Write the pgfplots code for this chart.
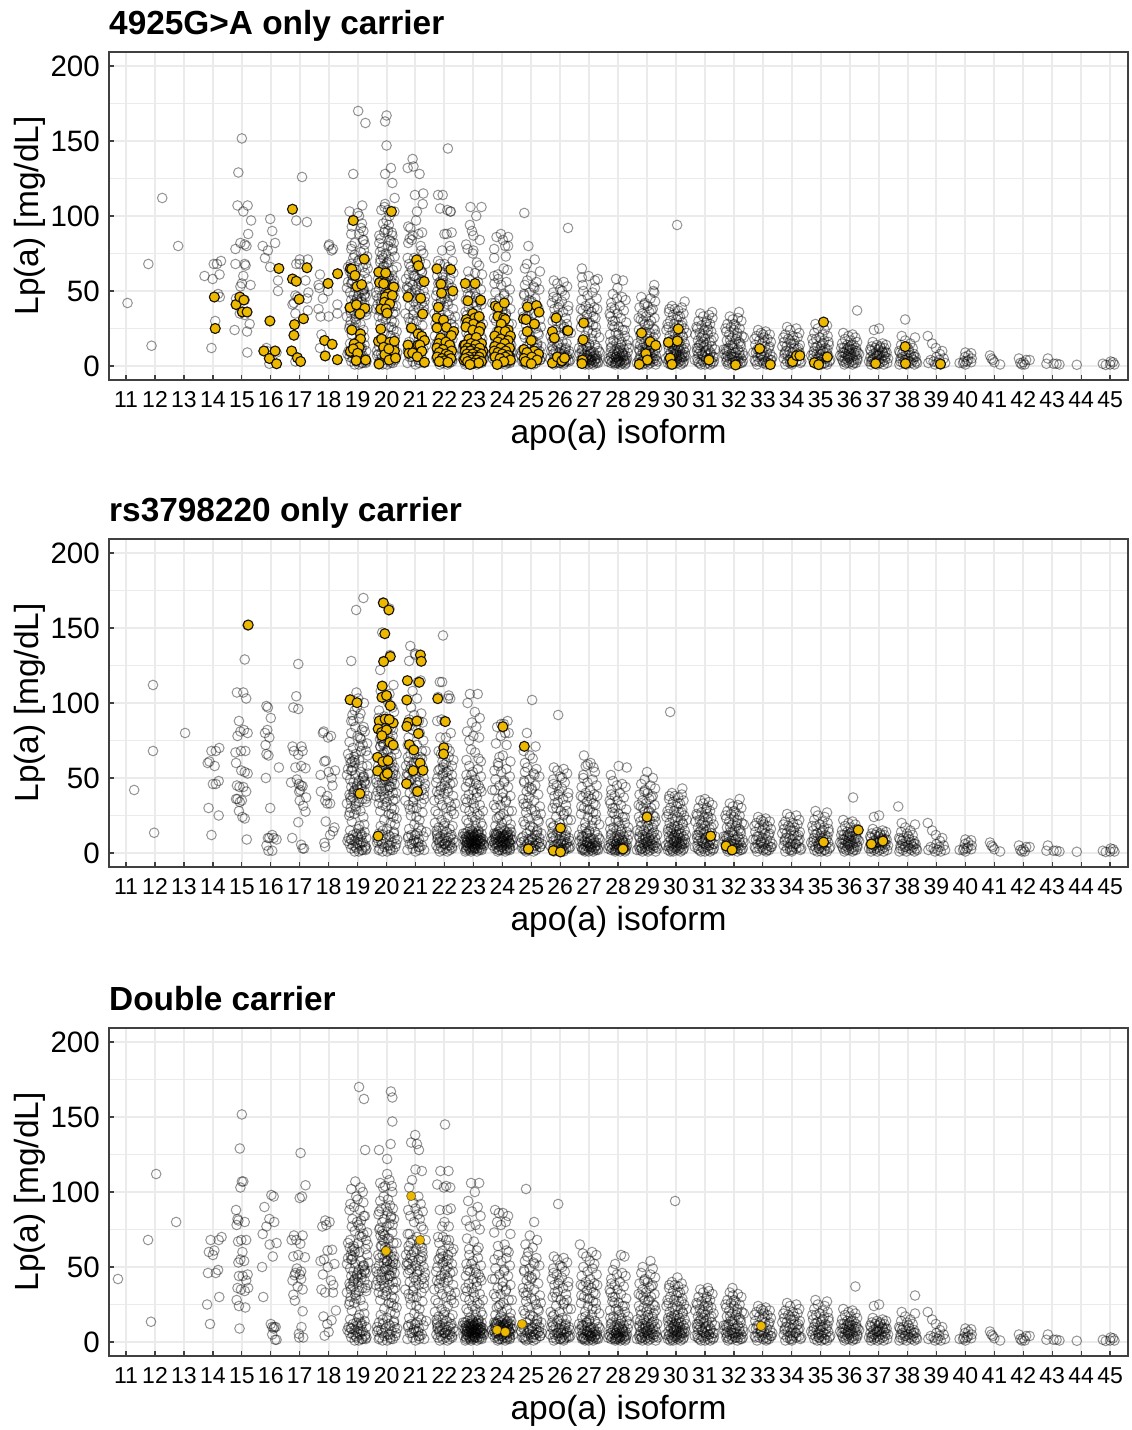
\documentclass[border=0pt]{standalone}
\usepackage{pgfplots}
\usepackage{pgfplotstable}
\usepackage{fontspec}
\setmainfont{Liberation Sans}
\pgfplotsset{compat=1.18}
\definecolor{gridg}{HTML}{EBEBEB}
\definecolor{frameg}{HTML}{404040}
\definecolor{gold}{HTML}{EDB800}
\pgfplotstableread{
a b c y
11.05 11.28 10.72 42
11.88 11.97 11.86 13.5
11.77 11.93 11.76 68
12.25 11.93 12.04 112
12.8 13.04 12.73 80
13.71 13.82 13.86 60
13.99 14.06 14.0 58
14.03 13.95 13.92 68
14.14 14.1 14.2 68
14.28 14.22 14.3 70
14.23 13.88 14.05 61
14.18 14.2 14.18 48
14.24 14.1 13.83 46
14.05 14.0 14.1 46
14.08 13.85 14.22 30
14.08 14.2 13.8 25
13.95 13.95 13.9 12
15.0 15.2 15.0 151.7
14.88 15.1 14.93 129
14.85 14.83 15.0 107
15.2 15.05 15.05 107
15.05 15.15 14.95 103
15.22 14.9 14.8 88
14.95 15.07 14.85 82
15.1 14.95 14.88 81
15.16 15.2 15.1 80
14.78 14.85 14.82 78
14.78 15.12 14.98 68
15.1 14.97 15.15 68
15.13 14.78 14.87 67
15.05 14.8 15.02 60
15.0 14.98 14.95 55
15.3 15.1 15.08 54
14.95 15.2 14.88 53
14.8 14.83 15.2 45
14.97 14.92 15.03 44
15.1 15.05 14.9 44
14.8 15.15 15.15 41
15.0 14.8 14.85 36
15.18 14.85 15.22 36
14.93 15.0 14.97 35
15.1 14.93 15.1 34
15.27 14.9 14.82 28
14.75 15.02 14.9 24
15.18 15.1 15.12 23
15.19 15.17 14.92 9
15.98 15.85 16.02 98
15.32 15.9 16.1 97
16.05 16.0 15.78 90
16.15 15.88 15.95 82
15.72 15.8 16.12 80
15.9 15.95 15.85 77
15.8 15.82 15.72 72
15.98 15.85 16.2 66
16.28 15.92 15.96 65
16.25 16.28 16.07 57
16.25 15.83 15.7 50
15.97 15.98 15.74 30
15.85 16.05 16.0 12
15.87 15.9 16.12 10
15.76 15.95 16.17 10
16.15 16.1 16.05 10
16.2 16.2 16.1 9
15.95 15.85 16.05 5
15.95 15.92 16.2 1.5
16.2 16.05 16.15 1.5
17.08 16.95 17.03 126
16.75 16.88 17.2 104.5
16.88 16.78 17.08 97
17.25 16.95 17.0 96
17.0 17.06 16.8 71
17.28 16.75 17.1 71
16.88 17.1 16.72 68
17.0 16.8 16.88 68
17.25 16.95 17.02 65.5
16.75 17.05 16.95 58
16.88 17.2 17.18 56.5
17.2 16.85 16.78 57
17.3 16.9 16.9 49
16.85 16.7 17.05 47
16.92 16.97 16.85 46
17.25 17.05 17.0 45
16.98 17.1 16.82 44.5
16.8 17.02 17.05 42
16.75 16.98 16.75 41
17.28 17.22 16.93 37
16.85 17.0 17.1 35
17.13 17.12 16.78 31.5
16.82 17.2 16.83 27.6
16.8 16.95 17.1 20.5
16.72 16.74 17.06 10
16.92 17.05 16.97 5.5
16.85 17.1 17.12 3
17.03 17.15 16.98 3
18.02 17.83 17.88 81
18.0 17.8 18.03 80
18.15 18.08 17.92 78
18.1 17.98 17.78 77
17.7 17.85 17.96 61
18.31 17.9 18.12 61.5
17.65 18.0 17.72 54
17.98 18.22 17.84 55
17.68 17.72 18.2 52
17.98 18.1 17.97 50
17.8 18.13 17.8 45
18.3 17.73 18.08 41
17.65 17.95 18.16 38
18.3 17.88 17.75 35
17.72 18.05 17.88 33
18.0 17.95 18.15 33
17.75 17.9 18.25 21
17.86 18.2 17.82 17
18.12 18.15 18.1 14.5
17.7 18.05 17.95 12
17.88 17.85 18.0 6.7
18.3 17.88 17.86 4.2
19.02 19.2 19.05 170
19.27 18.95 19.22 162
18.85 18.78 19.26 128
19.16 18.96 18.92 107
18.72 19.02 19.1 103
19.0 18.74 18.78 102
18.85 18.98 18.95 97
19.05 19.22 19.18 100
19.15 18.9 19.0 95
19.12 18.82 18.75 92
18.8 19.1 19.2 93
19.2 19.05 18.88 90
19.05 18.78 19.08 88
18.78 18.85 18.72 88
19.18 18.92 19.25 84
18.9 19.15 18.82 82
18.8 18.78 18.98 80
19.25 19.25 19.12 81
18.78 19.0 19.03 78
19.22 19.08 18.8 77
18.9 18.72 18.9 74
18.85 19.18 19.2 72
19.02 18.84 19.14 70
18.76 19.12 18.74 68
19.18 18.94 19.02 66
18.95 18.88 18.86 64
19.25 19.05 19.28 62
18.82 18.76 19.06 60
19.1 19.16 18.76 58
20.0 19.88 20.15 167
19.95 20.1 20.2 163
20.0 19.85 20.2 147
20.15 20.12 20.14 132
19.95 19.9 19.74 128
20.2 19.78 20.02 122
20.28 20.24 20.02 112
19.95 19.8 20.1 108
19.93 20.1 19.78 106
19.82 20.02 19.95 104
20.05 19.88 20.18 104
20.27 19.95 19.88 103
20.1 20.06 20.2 100
20.0 20.2 19.9 97
19.88 19.74 20.05 95
20.08 20.26 19.78 94
19.95 19.92 20.12 91
20.05 19.72 19.98 90
20.18 20.12 20.22 89
19.92 20.0 19.82 89
20.2 20.18 20.04 87
19.8 19.84 19.72 85
20.1 20.08 20.16 84
20.25 19.76 19.92 82
19.75 20.22 20.26 82
20.05 19.94 19.85 80
19.85 20.04 20.1 79
20.2 19.82 20.0 77
19.98 20.14 19.75 75
20.28 19.9 20.2 73
20.1 19.78 19.94 71
19.78 20.28 20.08 69
20.0 20.02 19.86 68
19.88 19.86 20.24 66
20.22 20.16 19.8 64
19.75 19.96 20.06 62
20.08 20.1 19.96 60
20.9 20.82 20.99 138
20.93 20.98 20.85 133
20.73 21.0 21.05 132
21.14 20.78 21.12 128
21.27 21.18 21.0 115
20.98 21.08 21.22 114
21.25 20.9 20.88 108
21.05 21.05 20.78 103
21.02 20.85 21.1 97
20.75 21.2 20.92 93
20.82 20.95 21.18 92
21.23 20.78 21.0 89
21.1 21.12 20.75 88
20.9 21.25 21.25 87
20.8 20.8 21.08 85
20.87 21.0 20.82 84
20.75 20.9 21.15 82
21.18 21.15 20.95 80
21.2 20.76 21.2 77
20.95 21.05 20.8 72
21.15 20.88 21.05 70
20.78 21.22 20.9 68
21.05 20.95 21.12 66
20.88 20.74 20.76 64
21.22 21.1 21.02 62
20.98 21.02 21.24 60
21.12 20.85 20.86 58
22.12 21.95 22.02 145
21.78 21.84 21.86 114
21.94 21.92 22.14 114
21.85 22.15 21.75 105
22.1 21.78 22.06 104
22.2 22.12 21.98 103
22.22 22.2 22.2 103
22.0 21.75 21.84 88
22.08 22.0 22.1 88
22.25 21.9 22.22 89
21.92 22.05 21.92 77
22.18 22.22 22.0 80
22.22 21.86 22.15 77
21.78 21.97 21.78 70
22.28 22.1 21.95 70
21.85 21.8 22.06 68
22.0 22.18 22.16 68
22.12 21.88 21.82 66
21.75 22.06 22.25 60
21.95 21.98 21.88 59
22.2 22.26 22.12 58
22.9 22.88 22.92 106
23.28 23.15 23.2 106
23.1 22.8 23.05 100
22.88 23.05 22.82 94
22.95 23.22 23.15 90
23.0 22.95 22.95 87
23.22 23.1 23.25 84
22.75 22.78 22.75 81
22.8 23.0 23.08 78
23.0 23.2 22.88 77
22.98 22.86 23.22 75
23.12 22.92 22.78 69
23.2 23.06 23.02 67
22.82 23.18 23.18 63
23.06 22.76 22.85 62
23.3 23.26 23.12 61
23.95 24.18 23.75 88
24.2 23.96 24.02 86
23.8 24.05 23.88 86
24.02 23.82 24.2 84
24.1 24.22 23.82 80
24.2 24.1 24.12 80
23.72 23.95 23.95 78
23.72 24.15 24.28 72
24.12 23.78 23.72 73
24.05 24.02 24.08 65
24.18 23.9 23.85 64
23.85 24.28 24.15 61
23.72 23.85 24.22 60
24.76 25.03 24.82 102
24.9 24.85 25.1 80
25.12 25.15 24.95 71
24.85 24.74 25.2 68
24.78 24.95 24.8 65
25.3 25.05 25.05 63
25.0 24.78 24.9 60
26.27 25.93 25.93 92
26.75 26.82 26.68 65
26.98 27.05 27.1 60
27.2 27.15 26.9 57
27.3 26.88 27.25 58
26.75 26.95 26.78 59
26.78 27.2 27.02 54
27.2 26.8 27.18 52
27.93 28.02 28.1 58
28.17 28.3 28.22 57
27.98 27.75 27.9 52
29.25 29.0 29.12 54
29.25 28.92 29.2 49
29.22 29.2 28.85 50
30.04 29.8 29.97 94
30.3 30.22 30.05 43
31.25 31.0 31.1 36
32.18 32.2 31.95 36
36.26 36.12 36.2 37
37.92 37.68 38.26 31
}\sparse
\pgfplotstableread{
x y
18.78 55
19.12 54
18.92 52
19.22 51
18.74 49
19.04 48
18.86 47
19.28 46
18.98 45
18.78 44
19.14 43
18.9 42
19.24 41
19.02 40
18.72 39
18.84 37
19.16 36
19.3 34
18.94 33
18.76 30
19.1 28
18.88 26
19.2 24
18.8 21
19.06 18
18.74 15
19.24 14
18.96 13
18.84 12
19.12 11
19.3 10
18.76 9
19.02 9
18.9 8
19.18 7
18.72 6
19.08 5
18.84 5
19.26 4
18.96 3
18.78 3
19.14 2
19.28 2
18.9 1
19.04 1
19.86 58
20.14 57
19.76 56
20.24 55
20.02 54
19.9 53
20.12 52
19.74 51
20.2 50
19.96 49
20.06 48
19.84 47
20.28 46
19.72 45
20.16 44
19.94 43
20.04 42
19.82 41
20.22 40
19.9 39
20.1 38
19.76 37
20.3 36
20.0 34
19.86 32
20.18 30
19.78 28
20.08 26
20.24 24
19.92 22
20.14 20
19.8 18
20.02 16
20.26 14
19.74 13
19.88 12
20.12 11
20.28 10
19.96 9
19.72 8
20.18 7
19.84 6
20.06 5
20.3 4
19.92 4
19.76 3
20.14 2
20.22 2
19.86 1
20.02 1
20.82 56
21.1 55
20.9 54
21.2 54
20.76 52
21.02 51
21.28 50
20.86 49
21.14 48
20.74 46
21.06 45
20.94 43
21.22 42
20.8 40
21.12 38
21.3 36
20.92 34
20.76 32
21.04 30
21.24 27
20.84 25
21.14 22
20.96 19
20.78 16
21.2 15
21.06 13
20.86 12
21.28 11
20.74 10
21.12 9
20.94 8
21.02 7
20.8 6
21.22 5
21.1 4
20.9 3
20.72 2
21.3 2
21.0 1
21.84 56
22.14 55
21.96 53
22.26 52
21.76 50
22.04 48
22.2 46
21.88 44
22.1 43
21.74 41
21.98 40
22.3 38
21.82 36
22.16 34
21.92 32
22.06 30
22.24 28
21.78 26
22.12 24
21.9 22
22.02 20
22.28 18
21.8 17
22.18 16
21.94 15
22.08 14
21.74 13
22.24 12
21.86 11
22.0 10
22.14 10
21.76 9
22.3 9
21.92 8
22.08 8
21.82 7
22.2 7
21.98 6
21.72 5
22.12 5
22.26 4
21.88 4
22.04 3
21.78 3
22.18 2
21.94 2
22.1 1
21.84 1
22.86 58
23.16 56
22.98 54
22.76 52
23.26 51
23.06 49
22.88 47
23.18 45
22.74 44
23.0 42
23.28 41
22.84 39
23.12 37
22.94 36
22.78 34
23.22 32
23.04 30
22.86 28
23.14 26
22.96 24
22.76 22
23.26 20
23.08 18
22.88 16
23.18 15
22.8 14
22.98 14
23.1 13
22.72 13
23.28 13
22.9 12
23.04 12
23.2 12
22.84 11
22.96 11
23.12 11
22.76 10
23.0 10
23.24 10
22.88 10
23.08 9
22.92 9
23.16 9
22.8 9
23.02 8
23.28 8
22.72 8
22.96 8
23.14 8
22.86 7
23.06 7
23.22 7
22.78 7
22.94 6
23.1 6
23.0 6
23.3 6
22.84 6
23.18 5
22.74 5
22.98 5
23.08 5
22.9 4
23.24 4
23.04 4
22.82 4
23.14 3
22.96 3
22.76 3
23.28 3
23.06 3
22.88 2
23.2 2
23.0 2
22.72 1
23.12 1
22.92 1
23.86 58
24.14 56
23.96 54
24.26 51
23.76 49
24.06 47
23.9 45
24.2 44
23.74 42
24.02 40
24.28 38
23.84 36
24.12 34
23.94 32
23.78 30
24.22 28
24.04 26
23.88 24
24.16 22
23.98 20
23.76 18
24.26 16
24.08 15
23.86 14
24.18 14
23.72 13
23.96 13
24.12 12
24.28 12
23.82 12
24.02 11
23.92 11
24.2 11
23.74 10
24.06 10
23.86 10
24.14 9
23.98 9
24.3 9
23.78 9
24.04 8
23.9 8
24.22 8
23.72 7
24.1 7
23.84 7
23.96 7
24.18 6
24.28 6
23.76 6
24.02 5
23.88 5
24.14 5
23.94 4
24.24 4
23.8 4
24.06 3
23.74 3
24.16 3
23.9 2
24.0 2
24.26 2
23.84 1
24.1 1
24.86 57
25.18 56
24.78 54
25.08 53
25.28 51
24.94 49
24.76 47
25.14 45
25.02 43
24.84 41
25.24 39
24.92 37
25.1 35
24.74 33
25.3 31
25.0 29
24.82 27
25.16 25
24.9 23
25.26 21
24.78 19
25.06 17
24.96 15
25.2 14
24.84 13
25.12 12
24.72 11
25.02 10
25.28 10
24.9 9
25.18 8
24.76 8
25.04 7
24.86 6
25.22 6
24.96 5
25.1 5
24.8 4
25.3 4
25.0 3
24.74 3
25.16 2
24.9 2
25.08 1
24.82 1
25.78 57
26.12 56
25.9 55
26.24 53
26.0 51
25.76 49
26.16 47
25.88 45
26.06 43
25.96 41
26.28 40
25.8 38
26.1 36
25.92 34
26.2 32
25.74 30
26.02 28
26.14 26
25.86 24
26.26 22
25.98 20
25.78 18
26.08 16
26.22 15
25.9 14
25.72 13
26.04 12
26.18 11
25.84 10
26.3 10
25.96 9
26.1 8
25.76 8
26.24 7
25.88 6
26.02 6
26.14 5
25.8 5
25.94 4
26.28 4
25.74 3
26.06 3
26.2 3
25.86 2
25.98 2
26.12 1
25.78 1
26.8 50
27.12 49
26.94 47
27.26 45
26.74 44
27.04 42
26.88 40
27.18 39
26.98 38
27.28 38
26.78 37
27.08 36
26.92 34
27.22 32
26.82 30
27.02 29
27.14 27
26.72 26
26.96 24
27.24 22
26.86 20
27.1 18
26.76 16
27.0 15
27.2 14
26.9 13
27.28 12
26.8 11
27.06 10
26.94 10
27.16 9
26.74 9
26.84 8
27.02 8
27.26 7
26.92 7
27.12 6
26.78 6
27.0 5
27.22 5
26.88 5
26.96 4
27.08 4
26.72 4
27.3 3
26.82 3
27.04 3
27.18 3
26.9 2
26.76 2
27.1 2
27.24 2
26.98 1
26.86 1
27.14 1
27.82 48
28.14 46
27.96 45
28.26 44
27.76 42
28.06 40
27.88 38
28.2 37
27.98 35
27.74 33
28.1 32
27.9 30
28.28 29
27.8 27
28.02 26
28.16 24
27.92 22
27.72 21
28.24 20
28.04 18
27.84 17
28.12 16
27.94 15
28.3 14
27.78 13
28.06 12
28.2 11
27.88 10
28.0 10
27.74 9
28.14 9
27.96 8
27.82 8
28.26 7
28.08 7
27.92 6
27.76 6
28.18 6
28.02 5
27.86 5
27.72 4
27.98 4
28.1 4
28.28 4
27.8 3
27.94 3
28.04 3
28.22 3
27.88 2
28.14 2
27.76 2
28.0 2
27.9 1
28.08 1
28.24 1
28.8 46
29.12 45
29.28 43
28.9 41
29.02 40
28.74 39
29.2 38
29.08 36
28.84 35
28.96 33
29.26 32
28.78 31
29.14 30
28.92 28
29.04 27
29.22 25
28.72 24
28.88 23
29.1 22
29.3 21
28.98 20
28.8 18
29.18 17
29.06 16
28.9 15
28.76 14
29.24 14
29.0 13
29.14 12
28.84 12
28.94 11
29.28 10
28.74 10
29.08 10
28.86 9
29.2 9
29.02 8
28.78 7
28.96 7
29.16 6
28.88 6
29.26 5
29.06 5
28.72 4
28.92 4
29.12 4
28.82 3
29.0 3
29.22 3
28.76 2
29.1 2
28.94 2
29.3 1
28.84 1
29.04 1
29.86 40
30.2 39
29.96 38
30.08 37
29.76 36
30.26 35
29.9 34
30.14 33
30.02 31
29.8 30
30.22 29
29.94 28
30.1 27
29.74 26
30.28 25
30.04 24
29.88 23
30.16 22
29.98 21
29.78 20
30.24 19
30.06 18
29.84 17
29.92 16
30.12 16
30.3 15
29.72 14
30.0 14
30.18 13
29.86 13
30.08 12
29.96 12
29.76 11
30.26 11
29.9 10
30.14 10
30.02 9
29.82 9
30.22 8
29.94 8
30.1 7
29.74 7
30.0 7
29.88 6
30.28 6
30.16 5
29.78 5
30.04 5
29.92 4
30.2 4
29.84 3
30.12 3
29.98 3
29.72 2
30.24 2
30.06 2
29.9 1
30.16 1
29.8 1
30.84 35
31.14 34
30.94 33
31.26 32
30.78 30
31.04 29
31.18 28
30.88 27
31.08 26
30.74 25
30.98 24
31.22 23
30.82 22
31.1 21
30.92 20
31.3 19
31.0 18
30.76 17
31.16 16
30.86 15
31.06 14
30.96 13
31.24 13
30.72 12
31.12 11
30.84 10
31.02 10
31.2 9
30.9 8
30.78 8
31.08 7
30.98 6
31.28 6
30.74 5
31.14 5
30.88 4
31.04 4
31.22 3
30.94 3
30.8 2
31.1 2
31.0 1
30.86 1
31.18 1
31.86 33
32.14 32
31.96 31
32.26 30
31.78 28
32.06 27
31.9 26
32.2 25
32.0 24
31.74 23
32.12 22
31.84 21
32.28 20
31.94 19
32.08 18
31.76 17
32.18 16
32.02 15
31.88 14
32.24 13
31.98 12
31.72 11
32.14 11
31.82 10
32.06 9
32.3 9
31.92 8
32.2 7
31.78 7
32.0 6
32.1 6
31.86 5
32.26 5
31.96 4
31.74 3
32.16 3
32.04 3
31.84 2
32.22 2
31.94 2
32.12 1
31.8 1
32.84 24
33.1 23
32.94 22
33.24 21
32.78 20
33.04 19
33.16 18
32.88 17
33.28 16
32.98 15
32.74 14
33.08 13
33.2 12
32.86 11
33.0 10
32.76 9
33.14 9
33.26 8
32.92 7
33.06 6
32.82 6
33.18 5
32.96 4
32.72 4
33.3 4
33.1 3
32.88 3
33.02 2
33.22 2
32.8 1
33.12 1
33.84 26
34.16 25
33.94 24
34.26 22
33.78 21
34.04 20
34.2 19
33.88 18
34.1 17
33.74 16
33.98 15
34.28 14
33.82 13
34.08 12
34.18 11
33.92 10
33.76 9
34.02 9
34.22 8
33.86 7
34.12 6
33.96 6
33.72 5
34.26 4
34.06 4
33.84 3
34.16 3
33.94 2
34.3 2
33.78 1
34.0 1
34.82 28
35.22 27
34.9 25
35.14 24
34.78 22
35.06 21
35.24 20
34.96 19
34.84 18
35.12 17
34.74 15
35.02 14
35.28 14
34.88 13
35.16 12
34.98 11
34.76 10
35.08 10
35.2 9
34.86 8
35.0 8
35.26 7
34.92 6
35.1 6
34.72 5
35.18 5
34.82 4
35.04 4
34.94 3
35.3 3
34.78 2
35.12 2
34.88 1
35.02 1
35.22 1
35.78 22
36.1 21
35.96 20
36.2 19
35.84 18
36.04 17
36.26 16
35.74 15
35.92 14
36.14 14
36.0 13
35.8 12
36.22 12
35.9 11
36.08 11
35.98 10
36.28 9
35.76 9
36.16 9
35.86 8
36.04 8
35.94 7
36.2 7
35.72 6
36.1 6
35.84 5
36.0 5
36.26 5
35.92 4
36.14 4
35.78 3
36.06 3
35.88 2
36.22 2
35.98 2
36.1 1
35.82 1
36.84 24
37.02 25
36.8 16
37.14 15
36.94 14
37.26 14
36.76 13
37.06 13
36.88 12
37.2 12
37.0 11
36.74 10
37.12 10
36.9 9
37.28 9
36.82 8
37.04 8
37.18 7
36.96 7
36.72 6
37.24 6
37.1 5
36.86 5
37.0 4
36.78 4
37.22 4
36.92 3
37.14 3
36.84 2
37.3 2
37.04 2
36.74 1
37.18 1
36.96 1
37.8 20
38.26 19
37.92 17
38.1 15
37.78 14
37.98 13
38.18 12
38.04 11
37.86 10
37.74 9
38.22 8
37.94 8
38.12 7
38.28 6
37.82 6
38.02 5
37.76 5
38.2 4
37.9 4
38.08 3
38.3 3
37.84 2
38.14 2
37.96 1
37.72 1
38.24 1
38.7 20
38.85 15
38.98 12
39.2 10
39.12 8
39.0 6
39.25 5
38.8 4
39.1 4
38.9 3
38.72 2
39.05 2
39.3 2
38.95 1
39.15 1
40.0 9
40.2 8.5
40.1 7
39.98 6
40.22 5
40.1 4
39.95 3
40.05 3
40.2 2.5
39.8 2
39.92 2
40.0 1
40.85 7
40.9 5
41.0 2.5
41.2 1
40.95 4
41.85 5
42.22 4
42.1 4
41.9 2
42.0 2.5
42.05 1
41.95 1
42.85 5
42.8 1.5
43.05 1.5
43.15 1.5
43.25 1
43.85 0.8
44.75 1.5
44.85 0.7
45.0 1
45.1 2.5
45.15 1
45.02 3
}\bulk
\pgfplotstableread{
x y
18.63 33
18.89 62
19.23 47
18.71 25
19.07 71
19.35 38
18.81 55
19.15 12
18.67 66
19.01 43
19.27 5
18.95 29
19.33 58
18.77 35
19.11 76
18.65 8
19.19 50
18.87 41
19.31 3
18.73 63
19.03 16
19.37 53
18.93 31
19.21 84
18.69 10
19.13 45
18.83 57
19.29 68
18.99 6
18.75 37
19.25 48
19.09 13
18.91 60
19.17 2
18.63 52
19.05 34
19.33 73
18.79 9
18.97 44
19.23 19
18.67 56
19.11 7
18.85 40
19.35 65
19.01 11
18.73 27
19.19 51
18.93 4
19.27 36
18.81 61
19.63 49
19.89 72
20.23 35
19.71 58
20.07 12
20.35 66
19.81 43
20.15 83
19.67 7
20.01 54
20.27 29
19.95 63
20.33 40
19.77 76
20.11 5
19.65 47
20.19 60
19.87 15
20.31 52
19.73 33
20.03 69
20.37 9
19.93 56
20.21 78
19.69 41
20.13 3
19.83 64
20.29 19
19.99 50
19.75 87
20.25 13
20.09 45
19.91 67
20.17 26
19.63 38
20.05 59
20.33 6
19.79 71
19.97 31
20.23 53
19.67 10
20.11 44
19.85 74
20.35 23
20.01 61
19.73 2
20.19 48
19.93 36
20.27 57
19.81 8
20.71 53
20.93 37
21.23 63
20.75 11
21.07 47
21.35 68
20.81 29
21.15 4
20.67 58
21.01 41
21.27 75
20.95 9
21.33 46
20.77 61
21.11 17
20.65 35
21.19 56
20.87 6
21.31 43
20.73 72
21.03 24
21.37 14
20.93 60
21.21 33
20.69 51
21.13 2
20.83 66
21.29 39
20.99 12
20.79 48
21.25 57
21.09 7
20.91 30
21.17 64
21.71 47
21.93 61
22.23 31
21.75 12
22.07 54
22.35 7
21.81 39
22.15 64
21.67 20
22.01 45
22.27 3
21.95 57
22.33 26
21.77 10
22.11 50
21.65 35
22.19 5
21.87 42
22.31 62
21.73 15
22.03 6
22.37 33
21.93 52
22.21 11
21.69 28
22.13 41
21.83 8
22.29 47
21.99 18
21.79 55
22.71 30
22.93 8
23.23 43
22.75 11
23.07 22
23.35 6
22.81 48
23.15 12
22.67 4
23.01 33
23.27 10
22.95 15
23.33 28
22.77 7
23.11 40
22.65 13
23.19 9
22.87 3
23.31 18
22.73 36
23.03 11
23.37 5
22.93 52
23.21 25
22.69 9
23.13 6
22.83 20
23.29 2
22.99 13
22.79 5
23.25 8
23.09 46
22.91 7
23.17 14
22.63 11
23.05 3
23.33 9
22.85 12
23.01 4
23.23 6
22.75 2
23.11 8
23.95 10
23.71 32
24.23 7
23.75 12
24.07 48
24.35 9
23.81 23
24.15 13
23.67 5
24.01 37
24.27 3
23.95 17
24.33 28
23.77 11
24.11 6
23.65 42
24.19 10
23.87 2
24.31 14
23.73 55
24.03 8
24.37 5
23.93 25
24.21 12
23.69 9
24.13 35
23.83 6
24.29 19
23.99 4
23.79 13
24.25 7
24.09 11
23.91 16
24.17 2
23.63 8
24.05 12
24.71 36
24.93 8
25.23 22
24.75 48
25.07 3
25.35 13
24.81 31
25.15 5
24.67 10
25.01 42
25.27 7
24.95 18
25.33 26
24.77 2
25.11 52
24.65 7
25.19 12
24.87 33
25.31 4
24.73 21
25.03 9
25.37 6
24.93 44
25.21 15
24.69 3
25.13 28
25.71 42
25.93 6
26.23 28
25.75 11
26.07 50
26.35 4
25.81 33
26.15 9
25.67 20
26.01 2
26.27 37
25.95 15
26.33 8
25.77 46
26.11 25
25.65 5
26.19 12
25.87 30
26.31 3
25.73 17
26.03 8
26.37 22
25.93 39
26.21 6
25.69 10
26.13 2
26.71 38
26.93 7
27.23 26
26.75 11
27.07 4
27.35 19
26.81 2
27.15 33
26.67 8
27.01 14
27.27 5
26.95 29
27.33 10
26.77 3
27.11 22
26.65 12
27.19 7
26.87 17
27.31 2
26.73 31
27.03 6
27.37 9
26.93 13
27.21 4
27.71 35
27.93 6
28.23 24
27.75 12
28.07 3
28.35 17
27.81 30
28.15 8
27.67 5
28.01 21
28.27 2
27.95 11
28.33 9
27.77 39
28.11 14
27.65 3
28.19 7
27.87 26
28.31 5
27.73 16
28.03 9
28.37 12
27.93 2
28.21 4
28.71 32
28.93 9
29.23 19
28.75 5
29.07 28
29.35 12
28.81 3
29.15 37
28.67 15
29.01 6
29.27 24
28.95 10
29.33 4
28.77 21
29.11 8
28.65 2
29.19 13
28.87 30
29.31 7
28.73 11
29.03 18
29.37 3
28.93 42
29.21 5
29.71 28
29.93 8
30.23 20
29.75 4
30.07 33
30.35 12
29.81 15
30.15 6
29.67 24
30.01 10
30.27 3
29.95 18
30.33 7
29.77 38
30.11 13
29.65 5
30.19 27
29.87 2
30.31 9
29.73 16
30.03 4
30.37 22
29.93 11
30.21 6
30.71 26
30.93 7
31.23 17
30.75 3
31.07 30
31.35 11
30.81 14
31.15 5
30.67 21
31.01 9
31.27 2
30.95 16
31.33 6
30.77 12
31.11 24
30.65 4
31.19 8
30.87 19
31.31 3
30.73 10
31.71 25
31.93 6
32.23 15
31.75 10
32.07 3
32.35 19
31.81 12
32.15 5
31.67 8
32.01 28
32.27 2
31.95 14
32.33 7
31.77 4
32.11 20
31.65 11
32.19 9
31.87 17
32.31 3
31.73 6
32.71 18
32.93 8
33.23 13
32.75 3
33.07 16
33.33 6
32.81 11
33.15 2
32.67 9
33.01 21
33.27 4
32.95 7
33.71 19
33.93 4
34.23 12
33.75 8
34.07 15
34.33 3
33.81 10
34.15 6
33.67 13
34.01 2
34.27 9
33.95 17
34.71 18
34.93 5
35.23 11
34.75 8
35.07 15
35.33 4
34.81 12
35.15 2
34.67 7
35.01 10
35.27 16
34.95 3
35.71 12
35.93 6
36.23 10
35.75 4
36.07 14
36.33 8
35.81 9
36.15 2
35.67 7
36.01 11
36.27 4
35.95 12
36.71 11
36.93 7
37.23 9
36.75 3
37.07 12
37.33 5
36.81 5
37.15 9
36.67 3
37.01 7
37.71 10
37.93 4
38.23 6
37.75 3
38.07 9
38.33 2
37.81 8
38.15 5
}\bulkb
\pgfplotstableread{
x y
14.05 46
14.08 25
14.8 41
14.93 46
15.07 44
15.02 36
15.18 36
15.97 30
15.76 10
15.95 5
16.15 10
16.2 1.5
16.28 65
16.75 104.5
16.75 58
16.88 56.5
17.25 65.5
16.98 44.5
17.13 31.5
16.82 27.6
16.8 20.5
16.72 10
16.92 5.5
17.03 3
17.98 55
18.31 61.5
17.86 17
18.12 14.5
17.88 6.7
18.3 4.2
18.85 97
18.75 65
18.8 64.6
18.91 60.4
18.98 53
19.14 54.3
19.23 71.3
18.74 39
18.96 40.8
19.25 38.5
19.08 34.7
18.8 24
19.1 21.4
19.1 18
18.88 14.7
19.05 12.5
18.75 9.8
18.85 11.4
19 8.5
18.95 3.6
19.28 4
20.17 103
19.73 62.6
19.97 62
19.76 55.5
19.9 54.8
20.25 52.6
20.05 48
19.96 46
20.2 47
19.93 42.5
20.11 41.4
19.8 38
19.98 38
20.02 35.2
19.8 24.7
19.72 16.5
19.83 18
20.11 15.8
20.27 16.5
19.9 12.5
20.27 10
19.94 7.6
19.74 1.3
20.09 4
20.31 5.3
20.08 11.4
21.04 70.8
21.1 66.8
21.3 56.3
20.74 46
21.18 45.2
21.25 34.7
20.86 25.4
21.09 21.4
21.22 19.8
20.74 14
21.09 14
21.31 17
21.15 14
20.77 8.5
20.9 8.7
21.22 9.8
21.06 6.2
21.31 2.5
21.74 64.8
22.22 64.4
21.88 54.6
21.9 48.6
22.29 50
21.79 39.2
21.74 32
21.97 30.7
21.74 25.4
22.07 25.8
22.32 23
22.24 20.3
21.87 18.7
21.8 15
22.05 16
22.18 14
21.74 12
21.95 11
22.25 10
21.82 9
22.05 8
22.15 7
21.75 6
21.92 5
22.22 5
22.0 3.5
21.82 3
22.12 2.5
22.68 14
22.83 9
23.03 13
23.15 7
23.33 10
22.67 4
22.9 17
23.14 11
22.72 55
23.06 55
22.81 43.4
23.25 43.9
22.98 35
22.76 31
23.05 32
23.2 33
22.8 29
23.0 28
23.25 26
22.74 26
22.98 24
23.2 23
22.85 18
23.1 19
23.28 15
22.72 14
22.92 15
23.08 14
22.8 12
23.0 11
23.22 12
22.72 10
22.9 10
23.12 9
23.28 8
22.78 8
22.98 8
23.05 6
23.2 6
22.85 6
22.72 5
22.95 4
23.12 4
23.28 3
22.8 3
23.02 2
23.18 2
22.88 1
23.76 40
23.86 39
24.07 42
23.85 33
24.05 32
24.1 31
23.96 28
24.2 24
23.88 23
24.1 23
24.28 20
23.74 20
23.95 18
24.2 17
23.85 16
24.08 15
23.74 13
24.25 12
23.95 12
23.72 10
24.12 10
23.85 9
24.0 8
24.2 7
23.75 6
24.1 6
23.92 5
24.28 4
24.05 3
23.82 1
24.87 39.4
25.18 40.3
25.27 35.9
24.73 31.4
24.82 31
25.11 28
24.86 23
25 17
24.75 11
25.1 10
24.85 9
25.25 8
24.75 5
25.02 6
25.2 4
24.8 3
25 1.5
25.86 32
25.73 23
25.8 18.7
26.24 23.6
25.73 2
26.07 3.5
25.9 6
26.27 23.5
26.81 28.7
26.79 17.5
26.77 4
26.75 1.6
26.06 3.5
26.15 5.3
28.81 22
29.11 16.2
29.3 13.8
28.96 8.2
29.01 4
28.73 1.1
29.74 15.8
30.05 16.7
30.08 24.7
29.8 5.3
29.86 1.1
31.14 4
32.06 0.7
32.89 11.6
33.26 0.9
34.03 2.9
34.17 6.9
34.28 6.9
35.1 29.3
34.78 2.2
34.93 0.9
35.23 6
36.9 1.6
37.92 12.9
37.93 1.6
39.14 1.3
}\goldA
\pgfplotstableread{
x y
15.22 152
19.89 166.7
20.08 162
19.94 146.2
20.13 131
19.9 127.6
21.17 132
21.2 127.8
20.72 114.9
21.13 113.8
19.85 111.3
19.84 103.8
20 105
20.13 98.2
18.74 102.2
18.98 100.2
20.7 102
21.77 102.9
22.03 87.6
20.23 86.7
19.75 88
19.95 89.3
20.09 89
19.71 82.7
19.83 80.4
20 82
19.84 78.2
20.11 73.8
20.23 72
19.69 63.8
19.87 60.9
20.05 61.6
19.69 54.7
19.94 51.3
20.03 53
20.75 87
21.05 88
20.7 84.4
21.1 79.6
20.79 72.2
20.94 68.7
21.16 60
20.92 54.9
21.26 55.1
20.69 46.2
21.07 41
21.98 70.2
21.97 66
19.08 39.6
19.71 11.3
24.02 84.2
24.76 71.1
24.9 2.7
26.01 16.7
25.76 1.6
26.01 0.7
29 24
28.17 2.7
31.2 11.3
31.73 4.7
31.94 2
35.1 7.3
36.3 15.3
36.75 6
37.15 8
}\goldB
\pgfplotstableread{
x y
20.85 97.3
19.98 60.7
21.16 68
23.82 8
24.1 6.7
24.68 12
32.94 10.7
}\goldC
\pgfplotsset{
 panel/.style={
  scale only axis, width=1019pt, height=328pt, anchor=south west,
  xmin=10.41, xmax=45.62, ymin=-9.33, ymax=209.33,
  xtick={11,...,45},
  xticklabels={11,12,13,14,15,16,17,18,19,20,21,22,23,24,25,26,27,28,29,30,31,32,33,34,35,36,37,38,39,40,41,42,43,44,45},
  ytick={0,50,100,150,200}, minor ytick={25,75,125,175},
  grid=both, tick pos=left,
  major grid style={draw=gridg,line width=2pt},
  minor grid style={draw=gridg,line width=1pt},
  axis line style={draw=frameg,line width=1.5pt},
  major tick style={draw=frameg,line width=1.3pt},
  minor tick length=0pt, major tick length=5pt,
  /pgf/number format/assume math mode=true,
  xticklabel style={font=\fontsize{23}{26}\selectfont,yshift=-8pt,inner xsep=0pt},
  yticklabel style={font=\fontsize{29.5}{33}\selectfont,inner xsep=9pt},
  xlabel={apo(a) isoform}, ylabel={Lp(a) [mg/dL]},
  xlabel style={font=\fontsize{33.5}{38}\selectfont,at={(axis description cs:0.5,-0.168)},anchor=center},
  ylabel style={font=\fontsize{33.5}{38}\selectfont,at={(axis description cs:-0.078,0.5)},anchor=center},
  title style={font=\fontsize{33.4}{38}\selectfont\bfseries,at={(axis description cs:0,1)},anchor=base west,yshift=11pt,inner xsep=0pt},
  clip=true,
 },
 grey/.style={only marks,mark=o,mark size=4.8pt,mark options={draw=black,draw opacity=0.42,line width=1pt,fill opacity=0}},
 goldstrong/.style={only marks,mark=*,mark size=5pt,mark options={fill=gold,draw=black,draw opacity=0.9,line width=1.1pt}},
 goldlight/.style={only marks,mark=*,mark size=4.6pt,mark options={fill=gold,draw=black,draw opacity=0.45,line width=0.8pt}},
}
\begin{document}
\begin{tikzpicture}
\path[use as bounding box] (0pt,0pt) rectangle (1132pt,1430pt);
\begin{axis}[panel,at={(109pt,1050pt)},title={4925G>A only carrier}]
\addplot[grey] table[x=x,y=y]{\bulk};
\addplot[grey] table[x=x,y=y]{\bulkb};
\addplot[grey] table[x=a,y=y]{\sparse};
\addplot[goldstrong] table[x=x,y=y]{\goldA};
\end{axis}
\begin{axis}[panel,at={(109pt,563pt)},title={rs3798220 only carrier}]
\addplot[grey] table[x=x,y=y]{\bulk};
\addplot[grey] table[x=x,y=y]{\bulkb};
\addplot[grey] table[x=b,y=y]{\sparse};
\addplot[goldstrong] table[x=x,y=y]{\goldB};
\end{axis}
\begin{axis}[panel,at={(109pt,74pt)},title={Double carrier}]
\addplot[grey] table[x=x,y=y]{\bulk};
\addplot[grey] table[x=x,y=y]{\bulkb};
\addplot[grey] table[x=c,y=y]{\sparse};
\addplot[goldlight] table[x=x,y=y]{\goldC};
\end{axis}
\end{tikzpicture}
\end{document}
